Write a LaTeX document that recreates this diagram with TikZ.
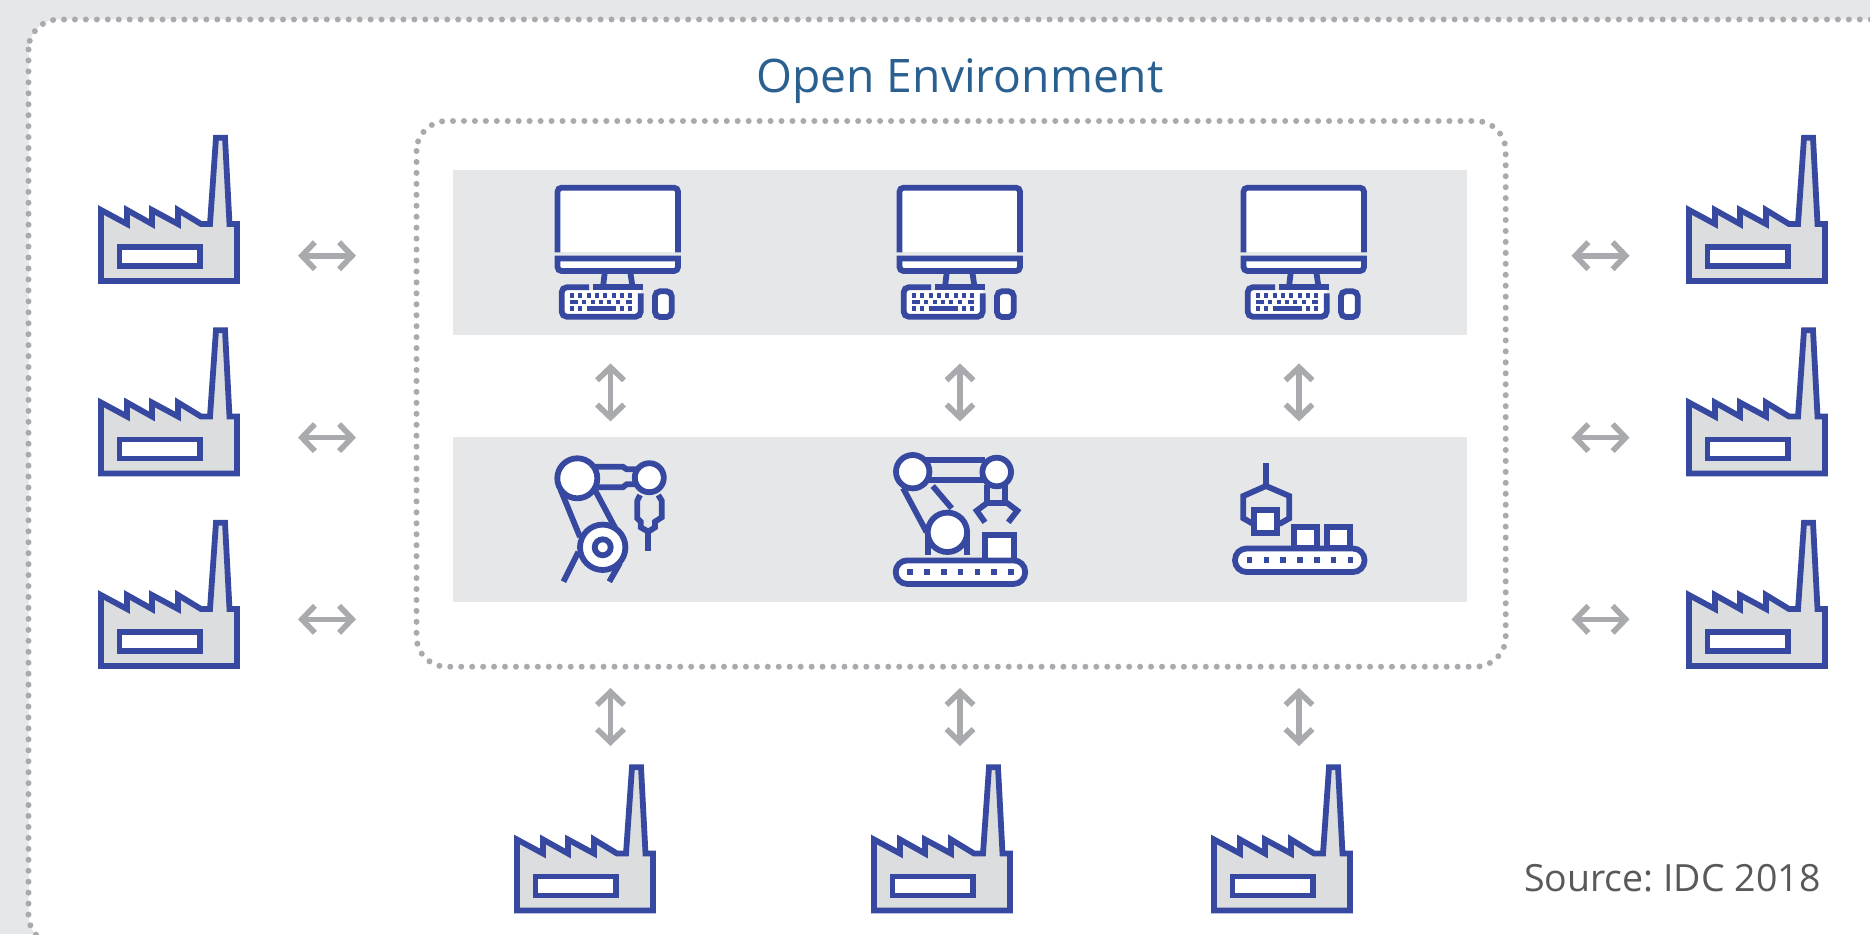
\documentclass[tikz,border=0pt]{standalone}
\usepackage{fontspec}
\setmainfont{Open Sans}
\frenchspacing
\usetikzlibrary{arrows.meta}
\definecolor{panel}{HTML}{E6E7E8}
\definecolor{fact}{HTML}{DCDDDE}
\definecolor{iconblue}{HTML}{36489F}
\definecolor{arrowgrey}{HTML}{A9AAAD}
\definecolor{titleblue}{HTML}{2A6090}
\definecolor{srcgrey}{HTML}{58595B}
\tikzset{
  x=1pt,y=-1pt,
  icon/.style={draw=iconblue,line width=5.8pt,miter limit=10},
  iconw/.style={icon,fill=white},
  frame/.style={draw=arrowgrey,line width=6pt,line cap=round,dash pattern=on 0pt off 10.95pt},
  biarrow/.style={draw=arrowgrey,line width=5.6pt,{Straight Barb[length=13pt,width=27pt]}-{Straight Barb[length=13pt,width=27pt]}},
  factory/.pic={
    \draw[icon,fill=fact] (0,-71)--(26,-57)--(26,-71)--(51,-57)--(51,-71)--(77,-57)--(77,-71)--(100,-57)--(109,-57)--(115,-143.3)--(124,-143.3)--(128.5,-57)--(136,-57)--(136,0)--(0,0)--cycle;
    \draw[iconw] (18.5,-34) rectangle (99,-15);
  },
  monitor/.pic={
    \fill[white] (557.5,188) rectangle (678,252);
    \draw[icon,rounded corners=4pt] (557.5,252.3)--(557.5,187.7)--(678,187.7)--(678,252.3);
    \draw[iconw] (557.5,258.5) [rounded corners=4pt] --(557.5,271)--(678,271) [sharp corners] --(678,258.5)--cycle;
    \draw[icon] (605,270)--(603,287) (630,270)--(632.5,287);
    \draw[icon] (592.7,287.3)--(642.7,287.3);
    \fill[white] (562,290) rectangle (640.5,316.5);
    \draw[icon,rounded corners=5pt] (589,287.3)--(561.7,287.3)--(561.7,316.7)--(640.7,316.7)--(640.7,293.3);
    \draw[iconw,rounded corners=5pt] (655,291.3) rectangle (671.7,317);
    \foreach \kx in {571.5,580,588.5,597,605.3,613.7,622,630.3}{
      \fill[iconblue] (\kx-2,293.4) rectangle (\kx+2,298);}
    \fill[iconblue] (570,299.8) rectangle (578.3,304.2);
    \foreach \kx in {584.3,592.7,601,609.3,617.7}{
      \fill[iconblue] (\kx-2,299.8) rectangle (\kx+2,304.2);}
    \fill[iconblue] (626,299.8) rectangle (632,304.2);
    \foreach \kx in {571.5,580,622,630.3}{
      \fill[iconblue] (\kx-2,305.8) rectangle (\kx+2,310.8);}
    \fill[iconblue] (586.7,305.8) rectangle (615.7,310.8);
  },
  conveyor/.pic={
    \draw[iconw,rounded corners=11.5pt] (0,0) rectangle (129.5,23.5);
    \foreach \i in {0,...,6}{
      \fill[iconblue] (14.5+16.8*\i-2.8,11.75-2.8) rectangle ++(5.6,5.6);}
  }
}
\begin{document}
\begin{tikzpicture}
\useasboundingbox (0,0) rectangle (1870,934);
\fill[panel] (0,0) rectangle (1870,934);
\begin{scope}
\clip (0,0) rectangle (1870,934);
\fill[white,rounded corners=30pt] (28.5,19.5) rectangle (1920,945);
\draw[frame,rounded corners=30pt] (28.5,19.5) rectangle (1920,945);
\end{scope}
\node[text=titleblue,font=\fontsize{46.2}{54}\selectfont,anchor=center] (title) at (960,81) {Open Environment};
\draw[frame,rounded corners=30pt] (416.5,121) rectangle (1505.7,666.7);
\fill[panel] (453,170) rectangle (1467,335);
\fill[panel] (453,436.5) rectangle (1467,602);
% monitors
\pic (m1) at (0,0) {monitor};
\pic (m2) at (342,0) {monitor};
\pic (m3) at (686,0) {monitor};
% robot 1
\draw[icon] (560.7,490)--(580,537) (595,490)--(620,537);
\draw[icon] (578.3,552)--(563.5,581.7) (620,563)--(609.3,581.7);
\draw[icon] (595,466.7)--(622.7,466.7)--(626.7,469.3)--(637,469.3);
\draw[icon] (598,487.3)--(622.7,487.3)--(626.7,484.3)--(637,484.3);
\draw[icon] (640,495)--(637.3,500.7)--(637.3,518.3)--(640.7,521.7)--(640.7,527.3)--(648.3,531.7)--(655,527.3)--(655,521.7)--(661.7,517.3)--(661.7,500.7)--(658.3,495);
\draw[icon] (648.3,531.7)--(648.3,550.7);
\draw[iconw] (602.7,547.3) circle (22.7);
\draw[icon] (602.7,547.3) circle (8);
\draw[iconw] (577.3,478.3) circle (20);
\draw[iconw] (649.3,477.7) circle (14.5);
% robot 2
\draw[icon] (903,488)--(926.5,532);
\draw[icon] (932.7,486)--(951.7,508.3);
\draw[icon] (925,460)--(985,460) (925,480)--(985,480);
\draw[icon] (987.3,485)--(987.3,502.7) (1005,485)--(1005,502.7);
\draw[icon] (985,502.7)--(1007,502.7);
\draw[icon] (987.3,502.7)--(976.7,510.7)--(985,522.3);
\draw[icon] (1006.7,502.7)--(1017.3,510.7)--(1008.3,522.3);
\draw[icon] (927.7,532)--(927.7,555) (967.2,532)--(967.2,555);
\draw[iconw] (947.4,532.3) circle (19.7);
\draw[iconw] (912.7,471.7) circle (16.7);
\draw[iconw] (996.7,472) circle (14.3);
\draw[iconw] (985,535) rectangle (1013.7,560.5);
\pic (c1) at (895.7,560.4) {conveyor};
% robot 3
\draw[icon] (1266,463.3)--(1266,486);
\draw[icon] (1253.3,524)--(1243.3,518.3)--(1243.3,496)--(1266,486)--(1289.3,496)--(1289.3,518.3)--(1279.3,524);
\draw[iconw] (1254.3,509.7) rectangle (1277,533.3);
\draw[iconw] (1293.7,526.7) rectangle (1316.7,548.3);
\draw[iconw] (1327.3,526.7) rectangle (1350.3,548.3);
\pic (c2) at (1235,548.5) {conveyor};
% factories
\pic (fl1) at (101,281) {factory};
\pic (fl2) at (101,473.5) {factory};
\pic (fl3) at (101,666) {factory};
\pic (fr1) at (1689,281) {factory};
\pic (fr2) at (1689,473.5) {factory};
\pic (fr3) at (1689,666) {factory};
\pic (fb1) at (517,910.5) {factory};
\pic (fb2) at (874,910.5) {factory};
\pic (fb3) at (1214,910.5) {factory};
% arrows
\foreach \n/\yy in {1/255.7,2/437.6,3/619.3}{
  \coordinate (la\n) at (298,\yy); \coordinate (lb\n) at (356,\yy);
  \coordinate (ra\n) at (1571.5,\yy); \coordinate (rb\n) at (1629.5,\yy);
  \draw[biarrow] (la\n)--(lb\n);
  \draw[biarrow] (ra\n)--(rb\n);
}
\foreach \n/\xx in {1/610.5,2/960,3/1299}{
  \coordinate (ua\n) at (\xx,363.4); \coordinate (ub\n) at (\xx,421.4);
  \coordinate (da\n) at (\xx,688); \coordinate (db\n) at (\xx,746);
  \draw[biarrow] (ua\n)--(ub\n);
  \draw[biarrow] (da\n)--(db\n);
}
\node[text=srcgrey,font=\fontsize{37.5}{44}\selectfont,anchor=east] (src) at (1824,878) {Source: IDC 2018};
\end{tikzpicture}
\end{document}
